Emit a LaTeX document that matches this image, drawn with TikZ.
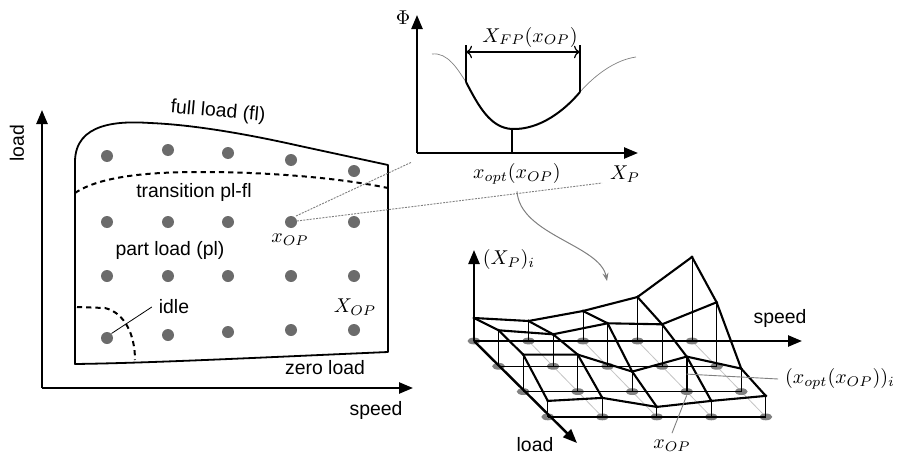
\documentclass[tikz,border=0pt]{standalone}
\usepackage{fontspec}
\setmainfont{Liberation Sans}
\usepackage{tikz}
\usetikzlibrary{arrows.meta,shapes.geometric,calc}
\definecolor{dotgray}{HTML}{6B6B6B}
\definecolor{leadgray}{HTML}{7F7F7F}
\definecolor{gridgray}{HTML}{C4C4C4}
\tikzset{
  axis/.style={line width=1.2pt, -{Triangle[length=7pt,width=5.5pt]}},
  outline/.style={line width=0.9pt, line join=round},
  boundary/.style={line width=1pt, dash pattern=on 2.6pt off 2pt},
  opdot/.style={circle, fill=dotgray, minimum size=6pt, inner sep=0pt},
  basedot/.style={ellipse, fill=dotgray!85, minimum width=6.5pt, minimum height=3.4pt, inner sep=0pt},
  vdot/.style={circle, fill=black, minimum size=1.6pt, inner sep=0pt},
  mlabel/.style={font=\fontsize{10}{12}\selectfont},
  leader/.style={draw=black, line width=0.4pt},
  greyleader/.style={draw=leadgray, line width=0.45pt},
  proj/.style={draw=leadgray, line width=0.45pt, dash pattern=on 1pt off 0.6pt},
  thincurve/.style={draw=gray, line width=0.35pt},
  thickcurve/.style={draw=black, line width=1pt},
  guide/.style={draw=black, line width=0.6pt},
  spanarrow/.style={line width=0.6pt, {To[length=3pt]}-{To[length=3pt]}},
  bendarrow/.style={draw=leadgray, line width=0.5pt, -{Stealth[length=4pt,width=3pt]}},
  surf/.style={line width=1.05pt, line join=round},
  stem/.style={line width=0.5pt},
  optstem/.style={line width=1.1pt},
  gridrow/.style={line width=0.6pt},
  gridcol/.style={draw=gridgray, line width=0.4pt}
}
\begin{document}
\begin{tikzpicture}[x=0.5pt, y=-0.5pt, font=\fontsize{9.7}{11}\selectfont]
  \useasboundingbox (0,0) rectangle (900,455);

  % --- operating range (left) ---
  \coordinate (lo) at (42,388);
  \coordinate (ly) at (42,110);
  \coordinate (lx) at (413,388);
  \draw[axis] (lo) -- (ly);
  \draw[axis] (lo) -- (lx);
  \node[rotate=90] (lload) at (17,143) {load};
  \node (lspeed) at (376,410) {speed};

  \draw[outline] (75,364) -- (75,162) .. controls (75,122) and (120,121) .. (150,123)
    .. controls (200,125) and (260,137) .. (300,146) -- (388,165) -- (388,352)
    .. controls (250,358) and (150,363) .. (75,364) -- cycle;
  \draw[boundary] (75,193) .. controls (100,176) and (150,172) .. (200,172)
    .. controls (270,172) and (340,178) .. (388,188);
  \draw[boundary] (77,307) -- (105,308) .. controls (125,313) and (135,335) .. (135,360);

  \coordinate (pa) at (412,162);
  \coordinate (pb) at (602,183);
  \draw[proj] (296,216) -- (pa);
  \draw[proj] (297,221) -- (pb);

  \foreach \i/\x/\y in {1/107/156, 2/168/150, 3/228/153, 4/291/160, 5/354/171}
    \node[opdot] (d-\i-1) at (\x,\y) {};
  \foreach \i/\x in {1/107, 2/168, 3/228, 4/291, 5/354} {
    \node[opdot] (d-\i-2) at (\x,222) {};
    \node[opdot] (d-\i-3) at (\x,276) {};
  }
  \foreach \i/\x/\y in {1/107/338, 2/168/335, 3/228/332, 4/291/330, 5/354/330}
    \node[opdot] (d-\i-4) at (\x,\y) {};

  \node[rotate=-5] (fl) at (218,112) {full load (fl)};
  \node (trans) at (194,192) {transition pl-fl};
  \node (pl) at (170,250) {part load (pl)};
  \node (idle) at (174,307) {idle};
  \node[mlabel] (xop) at (290,240) {$x_{OP}$};
  \node[mlabel] (Xop) at (355,307) {$X_{OP}$};
  \node (zero) at (325,368) {zero load};
  \draw[leader] (idle.west) -- (d-1-4.north east);

  % --- cost function (top) ---
  \coordinate (to) at (417,153);
  \coordinate (ty) at (417,15);
  \coordinate (tx) at (638,153);
  \draw[axis] (to) -- (ty);
  \draw[axis] (to) -- (tx);
  \node[mlabel] (phi) at (403,18) {$\Phi$};
  \node[mlabel] (xp) at (625,174) {$X_P$};

  \coordinate (c0) at (432,54);
  \coordinate (c1) at (466,82);
  \coordinate (cm) at (512,129);
  \coordinate (c2) at (580,92);
  \coordinate (c3) at (636,57);
  \draw[thincurve] (c0) .. controls (448,52) and (458,70) .. (c1);
  \draw[thickcurve] (c1) .. controls (478,105) and (490,128) .. (cm)
    .. controls (540,130) and (565,110) .. (c2);
  \draw[thincurve] (c2) .. controls (595,75) and (615,60) .. (c3);

  \coordinate (fa) at (466,45);
  \coordinate (fb) at (580,45);
  \coordinate (sa) at (466,52);
  \coordinate (sb) at (580,52);
  \draw[guide] (fa) -- (c1);
  \draw[guide] (fb) -- (c2);
  \draw[spanarrow] (sa) -- (sb);
  \node[mlabel] (xfp) at (530,37) {$X_{FP}(x_{OP})$};
  \draw[guide] (cm) -- (cm |- to);
  \node[mlabel] (xopt) at (517,174) {$x_{opt}(x_{OP})$};

  \coordinate (ca) at (607,281);
  \draw[bendarrow] (xopt.south) .. controls (520,235) and (600,245) .. (ca);

  % --- parameter map (bottom right) ---
  \foreach \i/\j/\h in {0/0/23, 1/0/20, 2/0/30, 3/0/44, 4/0/84,
                        0/1/36, 1/1/32, 2/1/43, 3/1/42, 4/1/64,
                        0/2/37, 1/2/37, 2/2/20, 3/2/35, 4/2/23,
                        0/3/16, 1/3/19, 2/3/10, 3/3/16, 4/3/21} {
    \coordinate (b-\i-\j) at ({474+54.5*\i+24.6*\j},{341+25.3*\j});
    \coordinate (s-\i-\j) at ({474+54.5*\i+24.6*\j},{341+25.3*\j-\h});
  }

  \foreach \i in {1,...,4}
    \draw[gridcol] (b-\i-0) -- (b-\i-3);
  \foreach \i in {0,...,4}
    \foreach \j in {0,...,3}
      \node[basedot] (e-\i-\j) at (b-\i-\j) {};
  \foreach \j in {1,2,3}
    \draw[gridrow] (b-0-\j) -- (b-4-\j);

  \foreach \i in {0,...,4}
    \foreach \j in {0,...,3}
      \draw[stem] (b-\i-\j) -- (s-\i-\j);
  \draw[optstem] (b-3-2) -- (s-3-2);

  \foreach \j in {0,...,3}
    \draw[surf] (s-0-\j) -- (s-1-\j) -- (s-2-\j) -- (s-3-\j) -- (s-4-\j);
  \foreach \i in {0,...,4}
    \draw[surf] (s-\i-0) -- (s-\i-1) -- (s-\i-2) -- (s-\i-3);
  \foreach \i in {0,...,4}
    \foreach \j in {0,...,3}
      \node[vdot] (v-\i-\j) at (s-\i-\j) {};

  \coordinate (gz) at (474,250);
  \coordinate (gs) at (802,341);
  \coordinate (gl) at (577,443);
  \draw[axis] (b-0-0) -- (gz);
  \draw[axis] (b-0-0) -- (gs);
  \draw[axis] (b-0-0) -- (gl);

  \node[mlabel] (xpi) at (509,259) {$(X_P)_i$};
  \node (gspeed) at (780,318) {speed};
  \node (gload) at (535,445) {load};
  \node[mlabel] (xopti) at (840,379) {$(x_{opt}(x_{OP}))_i$};
  \node[mlabel] (xopb) at (672,446) {$x_{OP}$};
  \draw[greyleader] ($(b-3-2)!0.5!(s-3-2)$) -- (xopti.west);
  \draw[greyleader] (e-3-2.south) -- (xopb.north);
\end{tikzpicture}
\end{document}
